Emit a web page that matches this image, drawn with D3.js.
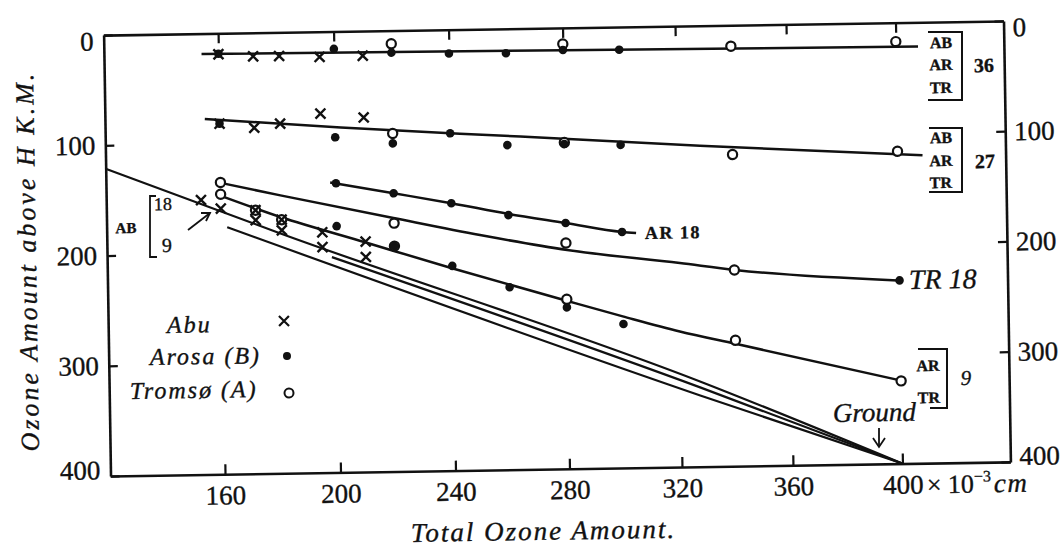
<!DOCTYPE html>
<html>
<head>
<meta charset="utf-8">
<script src="https://cdn.jsdelivr.net/npm/d3@7"></script>
<style>
body{margin:0;background:#fff;}
svg{display:block;}
text{font-family:"Liberation Serif","DejaVu Serif",serif;fill:#111;stroke:#111;stroke-width:0.35px;}
</style>
</head>
<body>
<svg width="1061" height="547"></svg>
<script>
// ---- data ----
var xTicks=[160,200,240,280,320,360,400];
var yTicks=[0,100,200,300,400];
var xDomain=[119.3,160,200,240,280,320,360,400,439];

// fitted curves (total ozone, ozone above H km)
var fit36=[[154,18.6],[280,20.3],[408,22]];
var fit27=[[154.8,77.5],[202,87.2],[264.6,98],[328.3,108.8],[409,120.7]];
var fitAR18=[[198,137],[220,147.6],[240,157.4],[260,168],[280,177],[300,185.9],[305,187]];
var fitTR18=[[159.4,135.3],[180.7,147.9],[219.8,170.1],[249.9,186.7],[280.4,201.5],[320.4,215],[340.2,222],[399.4,233.8]];
var fit9=[[159.6,147],[180.6,167.5],[209.8,191.6],[239.9,216.4],[279.6,247.3],[299.8,262.5],[320,277],[340,289],[400.5,325]];
var groundA=[[119.3,121.3],[180.3,182.2],[327,322.6],[400,400]];
var groundB=[[198.2,204.6],[327,328],[400,400]];
var groundC=[[162.1,176],[327,335.3],[400,400]];

// Abu (x)
var abu36=[[160,19],[172,21.4],[181,21.5],[195,22.9],[210,22.4]];
var abu27=[[160,82],[172,86.2],[181,82.8],[195,74.3],[210,78.4]];
var abu18=[[153,151],[172,161],[181,170],[195,182],[210,191]];
var abu9=[[160,159],[172,170],[181,179.5],[195,195.4],[210,205]];
// Arosa (B) dots
var arosa36=[[160,18.5],[200,15.8],[220,20],[240,21.6],[260,22.2],[280,20],[300,20.6]];
var arosa27=[[160,82],[200,96],[220,102.3],[240,94],[260,105.5],[280,105.4],[300,106.9]];
var arosa18=[[200,137.7],[220,147.6],[240,157.4],[260,169],[280,177],[300,185.9]];
var arosa9=[[200,176.6],[220,195.5],[240,214.3],[260,234.5],[280,253.5],[300,269.4]];
// Tromso (A) circles
var tromso36=[[220,12],[280,14.6],[340,19],[400,17.2]];
var tromso27=[[220,93.3],[280,104],[340,117.3],[400,116.7]];
var tromso18=[[160,135.3],[220,174.7],[280,195.2],[340,222]];
var tromso18End=[[400,233.8]];
var tromso9=[[160,146],[172,161],[181,170],[220,195.5],[280,246.2],[340,285.8],[400,325]];

// ---- drawing ----
var svg=d3.select('svg');
var rot=0.9, cx=557, cy=248;   // the scan is turned a little
function un(px,py){
  var a=rot*Math.PI/180, dx=px-cx, dy=py-cy;
  return [cx+dx*Math.cos(a)-dy*Math.sin(a), cy+dx*Math.sin(a)+dy*Math.cos(a)];
}
var g=svg.append('g').attr('transform','rotate('+(-rot)+','+cx+','+cy+')');

var x=d3.scaleLinear().domain(xDomain).range([107,221.5,337,452,566,678.5,789.5,899,1007]);
var y=d3.scaleLinear().domain([0,400]).range([28,469]);
var ink='#111';

function styleAxis(a){
  a.attr('font-family',null).attr('font-size',null);
  a.select('.domain').attr('stroke',ink).attr('stroke-width',2.6);
  a.selectAll('.tick line').attr('stroke',ink).attr('stroke-width',2.2);
  a.selectAll('.tick text').attr('font-size',27).attr('fill',ink);
}
// end labels of the vertical axes sit a little inside the frame
function nudge(a){
  a.selectAll('.tick text').filter(function(d){return d===0;}).attr('dy','0.55em');
  a.selectAll('.tick text').filter(function(d){return d===400;}).attr('dy','0.1em');
}
var ax;
ax=g.append('g').attr('transform','translate(0,'+y(400)+')')
  .call(d3.axisBottom(x).tickValues(xTicks).tickSize(-10).tickSizeOuter(0).tickPadding(11));
styleAxis(ax);
ax=g.append('g').attr('transform','translate(0,'+y(0)+')')
  .call(d3.axisTop(x).tickValues(xTicks).tickSize(-10).tickSizeOuter(0).tickFormat(''));
styleAxis(ax);
ax=g.append('g').attr('transform','translate('+x(xDomain[0])+',0)')
  .call(d3.axisLeft(y).tickValues(yTicks).tickSize(-9).tickSizeOuter(0).tickPadding(10));
styleAxis(ax); nudge(ax);
ax=g.append('g').attr('transform','translate('+x(xDomain[xDomain.length-1])+',0)')
  .call(d3.axisRight(y).tickValues(yTicks).tickSize(-9).tickSizeOuter(0).tickPadding(9));
styleAxis(ax); nudge(ax);

// unit after 400
var ut=g.append('text').attr('x',x(400)+24).attr('y',y(400)+11+0.71*27).attr('font-size',26);
ut.append('tspan').text('× 10');
ut.append('tspan').attr('font-size',16).attr('dy',-11).text('−3');
ut.append('tspan').attr('font-style','italic').attr('font-size',27).attr('dx',3).attr('dy',11)
  .attr('letter-spacing',1.5).text('cm');

// curves
var smooth=d3.line().x(function(d){return x(d[0]);}).y(function(d){return y(d[1]);}).curve(d3.curveMonotoneX);
[fit36,fit27,fitAR18,fitTR18,fit9].forEach(function(c){
  g.append('path').attr('d',smooth(c)).attr('fill','none').attr('stroke',ink).attr('stroke-width',2.5);
});
[groundA,groundB,groundC].forEach(function(c){
  g.append('path').attr('d',smooth(c)).attr('fill','none').attr('stroke',ink).attr('stroke-width',2.2);
});

// markers
function crosses(data){
  g.append('g').selectAll('path').data(data).enter().append('path')
    .attr('transform',function(d){return 'translate('+x(d[0])+','+y(d[1])+')';})
    .attr('d','M-5,-5L5,5M-5,5L5,-5').attr('stroke',ink).attr('stroke-width',2.4).attr('fill','none');
}
function dots(data){
  g.append('g').selectAll('circle').data(data).enter().append('circle')
    .attr('cx',function(d){return x(d[0]);}).attr('cy',function(d){return y(d[1]);})
    .attr('r',4.3).attr('fill',ink);
}
function rings(data){
  g.append('g').selectAll('circle').data(data).enter().append('circle')
    .attr('cx',function(d){return x(d[0]);}).attr('cy',function(d){return y(d[1]);})
    .attr('r',4.6).attr('fill','#fff').attr('stroke',ink).attr('stroke-width',2.2);
}
[tromso36,tromso27,tromso18,tromso9].forEach(rings);
[arosa36,arosa27,arosa18,arosa9,tromso18End].forEach(dots);
[abu36,abu27,abu18,abu9].forEach(crosses);

// annotations, given in picture coordinates
function txt(px,py,s,size,opt){
  var p=un(px,py);
  var t=g.append('text').attr('x',p[0]).attr('y',p[1]).attr('font-size',size).text(s);
  opt=opt||{};
  if(opt.italic) t.attr('font-style','italic');
  if(opt.bold) t.attr('font-weight','bold');
  if(opt.anchor) t.attr('text-anchor',opt.anchor);
  if(opt.ls) t.attr('letter-spacing',opt.ls);
  return t;
}
function poly(pts,w){
  g.append('path').attr('d',d3.line()(pts.map(function(p){return un(p[0],p[1]);})))
    .attr('fill','none').attr('stroke',ink).attr('stroke-width',w||2);
}

// right brackets
poly([[928,32],[962,32],[962,100],[928,100]]);
txt(941,48,'AB',16,{bold:true,anchor:'middle'});
txt(941,70,'AR',16,{bold:true,anchor:'middle'});
txt(941,93,'TR',16,{bold:true,anchor:'middle'});
txt(984,72,'36',20,{bold:true,anchor:'middle'});
poly([[929,128],[962,128],[962,192],[929,192]]);
txt(941,143,'AB',16,{bold:true,anchor:'middle'});
txt(941,166,'AR',16,{bold:true,anchor:'middle'});
txt(941,188,'TR',16,{bold:true,anchor:'middle'});
txt(985,168,'27',20,{bold:true,anchor:'middle'});
poly([[918,349],[947,349],[947,408],[930,408]]);
txt(928,371,'AR',16,{bold:true,anchor:'middle'});
txt(929,403,'TR',16,{bold:true,anchor:'middle'});
txt(966,385,'9',21,{italic:true,anchor:'middle'});

txt(645,239,'AR 18',18,{bold:true,ls:1.5});
txt(909,289,'TR 18',28,{italic:true});

// ground label and arrow
txt(833,422,'Ground',27,{italic:true});
poly([[879,428],[879,447]],1.8);
poly([[873,438],[879,447],[885,438]],1.8);

// left bracket AB 18 / 9
poly([[156,196],[150,196],[150,257],[157,257]],1.8);
txt(126,233,'AB',15,{bold:true,anchor:'middle'});
txt(163,210,'18',18,{anchor:'middle'});
txt(167,252,'9',20,{anchor:'middle'});
poly([[188,230],[210,213]],1.8);
poly([[201,213],[210,213],[206,221]],1.8);

// legend
txt(167,333,'Abu',24,{italic:true,ls:2});
txt(150,365,'Arosa (B)',24,{italic:true,ls:2});
txt(130,399,'Tromsø (A)',24,{italic:true,ls:2});
var lp=un(284,321);
g.append('path').attr('transform','translate('+lp[0]+','+lp[1]+')')
  .attr('d','M-5,-5L5,5M-5,5L5,-5').attr('stroke',ink).attr('stroke-width',2.2);
lp=un(287,356);
g.append('circle').attr('cx',lp[0]).attr('cy',lp[1]).attr('r',4).attr('fill',ink);
lp=un(289,393);
g.append('circle').attr('cx',lp[0]).attr('cy',lp[1]).attr('r',4.5).attr('fill','#fff').attr('stroke',ink).attr('stroke-width',2);

// axis titles
txt(411,542,'Total Ozone Amount.',27,{italic:true,ls:2});
var tp=un(36,261);
g.append('text').attr('transform','translate('+tp[0]+','+tp[1]+') rotate(-90)')
  .attr('text-anchor','middle').attr('font-size',26).attr('font-style','italic')
  .attr('letter-spacing',3).text('Ozone Amount above H K.M.');
</script>
</body>
</html>
